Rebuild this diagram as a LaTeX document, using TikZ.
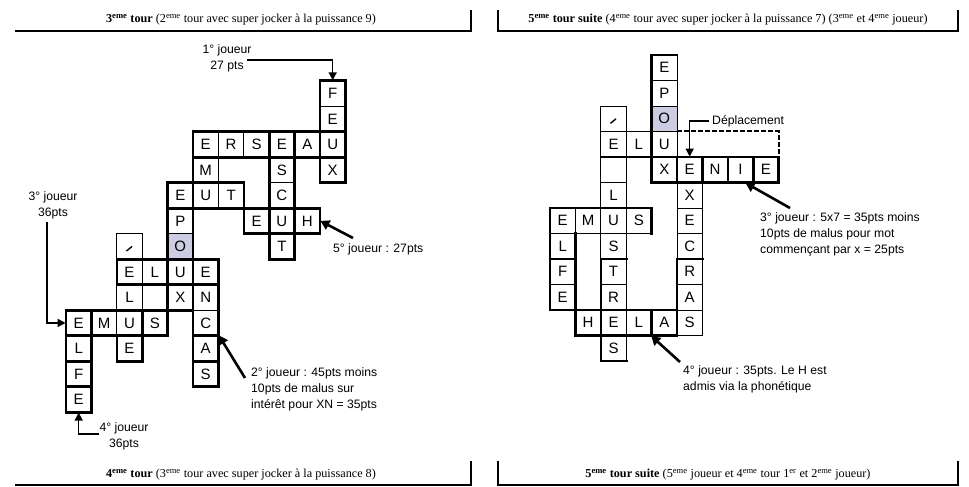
\documentclass[tikz,border=0pt]{standalone}
\usepackage{fontspec}
\setmainfont{Liberation Serif}
\newfontfamily\arialf{Liberation Sans}
\usetikzlibrary{arrows.meta}
\definecolor{cellshade}{RGB}{204,204,226}
\tikzset{
  cellbox/.style={draw=black, line width=0.8pt, minimum width=25.4pt, minimum height=25.5pt,
    inner sep=0pt, font=\arialf\fontsize{15}{15}\selectfont},
  wordline/.style={line width=2.6pt, line cap=rect},
  annot/.style={font=\arialf\fontsize{12.2}{16}\selectfont, inner sep=0pt},
  headtxt/.style={font=\fontsize{12.2}{13}\selectfont, inner sep=0pt},
  headline/.style={line width=2.6pt},
  footline/.style={line width=1.6pt},
  bigarrow/.style={line width=2.6pt, -{Triangle[length=9pt,width=10pt]}},
  smallarrow/.style={line width=1.5pt, -{Triangle[length=8pt,width=8pt]}},
  slashmark/.style={line width=1.4pt}
}
\newcommand{\cellsup}[1]{\textsuperscript{#1}}
\begin{document}
\begin{tikzpicture}[x=1pt,y=-1pt]
\useasboundingbox (0,0) rectangle (969,487);

% ---------------- headers and footers ----------------
\node[headtxt] (h1) at (241,20) {\textbf{3\cellsup{eme} tour} (2\cellsup{eme} tour avec super jocker à la puissance 9)};
\node[headtxt] (h2) at (728,20) {\textbf{5\cellsup{eme} tour suite} (4\cellsup{eme} tour avec super jocker à la puissance 7) (3\cellsup{eme} et 4\cellsup{eme} joueur)};
\node[headtxt] (f1) at (241,475) {\textbf{4\cellsup{eme} tour} (3\cellsup{eme} tour avec super jocker à la puissance 8)};
\node[headtxt] (f2) at (728,475) {\textbf{5\cellsup{eme} tour suite} (5\cellsup{eme} joueur et 4\cellsup{eme} tour 1\cellsup{er} et 2\cellsup{eme} joueur)};
\draw[headline] (15,31) -- (471,31) -- (471,10);
\draw[headline] (498,10) -- (498,31) -- (958,31) -- (958,10);
\draw[footline] (15,485) -- (471,485);
\draw[headline] (471,461) -- (471,486);
\draw[footline] (498,485) -- (958,485);
\draw[headline] (498,461) -- (498,486);
\draw[headline] (958,461) -- (958,486);

% ---------------- left grid ----------------
\begin{scope}[shift={(66pt,-80.7pt)}, x=25.4pt, y=-25.5pt]
  \foreach \c/\r/\t in {10/0/F,10/1/E,5/2/E,6/2/R,7/2/S,8/2/E,9/2/A,10/2/U,
      5/3/M,8/3/S,10/3/X,4/4/E,5/4/U,6/4/T,8/4/C,4/5/P,7/5/E,8/5/U,9/5/H,
      2/6/{},8/6/T,2/7/E,3/7/L,4/7/U,5/7/E,2/8/L,4/8/X,5/8/N,
      0/9/E,1/9/M,2/9/U,3/9/S,5/9/C,0/10/L,2/10/E,5/10/A,0/11/F,5/11/S,0/12/E}
    \node[cellbox] (L-\c-\r) at (\c+.5,\r+.5) {\t};
  \node[cellbox, fill=cellshade] (L-4-6) at (4.5,6.5) {O};
  \draw[slashmark] (2.38,6.68) -- (2.6,6.5);
  % word outlines
  \draw[wordline] (10,0) rectangle (11,4);
  \draw[wordline] (5,2) rectangle (11,3);
  \draw[wordline] (5,3) -- (5,4);
  \draw[wordline] (8,2) rectangle (9,7);
  \draw[wordline] (4,4) rectangle (7,5);
  \draw[wordline] (7,5) rectangle (10,6);
  \draw[wordline] (4,4) rectangle (5,9);
  \draw[wordline] (2,7) rectangle (6,8);
  \draw[wordline] (2,10) rectangle (3,11);
  \draw[wordline] (3,9) -- (3,10);
  \draw[wordline] (5,7) rectangle (6,12);
  \draw[wordline] (5,10) -- (6,10);
  \draw[wordline] (5,11) -- (6,11);
  \draw[wordline] (0,9) rectangle (4,10);
  \draw[wordline] (0,9) rectangle (1,13);
  \draw[wordline] (0,11) -- (1,11);
  \draw[wordline] (0,12) -- (1,12);
\end{scope}

% ---------------- right grid ----------------
\begin{scope}[shift={(550pt,-55pt)}, x=25.4pt, y=-25.5pt]
  \foreach \c/\r/\t in {4/0/E,4/1/P,2/2/{},2/3/E,3/3/L,4/3/U,2/4/{},4/4/X,5/4/E,6/4/N,7/4/I,8/4/E,
      2/5/L,5/5/X,0/6/E,1/6/M,2/6/U,3/6/S,5/6/E,0/7/L,2/7/S,5/7/C,0/8/F,2/8/T,5/8/R,
      0/9/E,2/9/R,5/9/A,1/10/H,2/10/E,3/10/L,4/10/A,5/10/S,2/11/S}
    \node[cellbox] (R-\c-\r) at (\c+.5,\r+.5) {\t};
  \node[cellbox, fill=cellshade] (R-4-2) at (4.5,2.5) {O};
  \draw[slashmark] (2.38,2.68) -- (2.6,2.5);
  % word outlines
  \draw[wordline] (4,4) -- (4,0) -- (5,0);
  \draw[wordline] (2,4) -- (4,4);
  \draw[wordline] (4,4) rectangle (9,5);
  \foreach \k in {5,6,7,8} \draw[wordline] (\k,4) -- (\k,5);
  \draw[wordline] (5,8) -- (5,11);
  \draw[wordline] (5,8) -- (6,8);
  \draw[wordline] (2,8) -- (3,8);
  \draw[wordline] (2,8) -- (2,12) -- (3,12);
  \draw[wordline] (0,6) -- (4,6) -- (4,7);
  \draw[wordline] (0,6) -- (0,10) -- (1,10) -- (1,7);
  \draw[wordline] (0,8) -- (1,8);
  \draw[wordline] (1,10) rectangle (5,11);
  \draw[wordline] (4,10) -- (4,11);
\end{scope}

% ---------------- left annotations ----------------
\node[annot, align=center] (n1) at (227,58) {1° joueur\\27 pts};
\coordinate (n1s) at (247,60);
\draw[smallarrow] (n1s) -| (L-10-0.north);

\node[annot, align=center] (n3) at (53,205) {3° joueur\\36pts};
\coordinate (n3s) at (47,222);
\draw[smallarrow] (n3s) |- (L-0-9.west);

\node[annot, anchor=west] (n5) at (333,249) {5° joueur : 27pts};
\coordinate (n5s) at (353,238);
\draw[bigarrow] (n5s) -- (L-9-5.east);

\node[annot, anchor=north west, align=left] (n2) at (251,367) {2° joueur : 45pts moins\\10pts de malus sur\\intérêt pour XN = 35pts};
\coordinate (n2s) at (245,378);
\draw[bigarrow] (n2s) -- (L-5-10.north east);

\node[annot, align=center] (n4) at (124,436) {4° joueur\\36pts};
\coordinate (n4s) at (99,434);
\draw[smallarrow] (n4s) -| (L-0-12.south);

% ---------------- right annotations ----------------
\node[annot, anchor=west] (dep) at (712,121) {Déplacement};
\coordinate (deps) at (709,121);
\draw[smallarrow] (deps) -| (R-5-4.north);
\draw[line width=2.6pt, dashed, dash pattern=on 5pt off 2pt] (R-4-3.north east) -| (R-8-4.north east);

\node[annot, anchor=north west, align=left] (m3) at (760,212) {3° joueur : 5x7 = 35pts moins\\10pts de malus pour mot\\commençant par x = 25pts};
\coordinate (m3s) at (790,208);
\draw[bigarrow] (m3s) -- ([xshift=5pt]R-7-4.south);

\node[annot, anchor=north west, align=left] (m4) at (683,365) {4° joueur : 35pts. Le H est\\admis via la phonétique};
\coordinate (m4s) at (680,362);
\draw[bigarrow] (m4s) -- (R-4-10.south west);
\end{tikzpicture}
\end{document}
